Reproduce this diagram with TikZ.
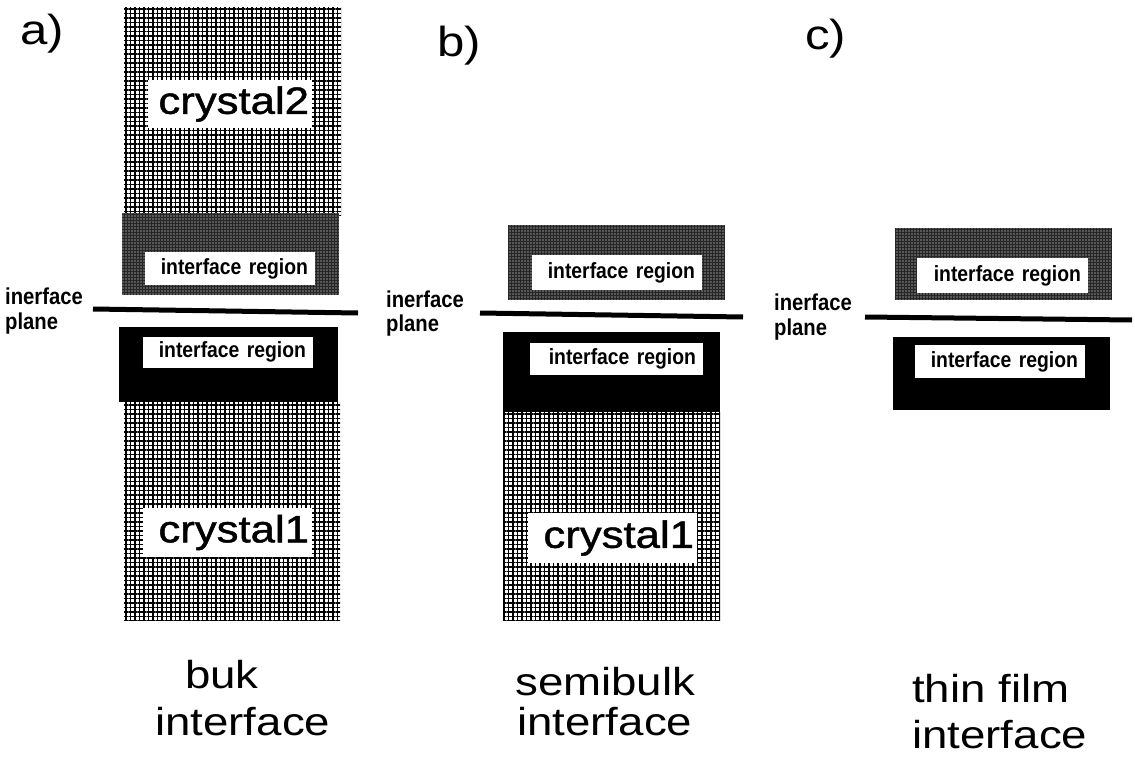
\documentclass[tikz,border=0pt]{standalone}
\usepackage{fontspec}
\setmainfont{Liberation Sans}
\newfontfamily\widefont[FakeStretch=1.17]{Liberation Sans}
\newfontfamily\cryfont[FakeStretch=1.15,FakeBold=1.2]{Liberation Sans}
\newfontfamily\narrowfont[FakeStretch=0.88]{Liberation Sans}
\usetikzlibrary{patterns.meta}
\begin{document}
\begin{tikzpicture}[x=1pt,y=-1pt,
  crystal/.style={pattern={Hatch[angle=0,distance=4.5pt,line width=1.8pt]},pattern color=black},
  upreg/.style={fill=black!85,postaction={pattern={Dots[distance=3pt,radius=0.55pt]},pattern color=white}},
  lowreg/.style={fill=black},
  plane/.style={line width=5pt,line cap=butt},
  regbox/.style={fill=white,inner xsep=7pt,inner ysep=0pt,align=right,
    font=\narrowfont\bfseries\fontsize{22}{22}\selectfont},
  crybox/.style={fill=white,inner xsep=3pt,inner ysep=0pt,align=right,
    font=\cryfont\fontsize{38}{38}\selectfont},
  small/.style={anchor=base west,inner sep=0pt,font=\narrowfont\bfseries\fontsize{23}{23}\selectfont},
  big/.style={anchor=base west,inner sep=0pt,font=\widefont\fontsize{39}{39}\selectfont},
  tag/.style={anchor=base west,inner sep=0pt,font=\widefont\fontsize{42}{42}\selectfont}]
\useasboundingbox (0,0) rectangle (1135,765);
\fill[white] (0,0) rectangle (1135,765);

% panel a
\fill[crystal] (124,7) rectangle (341,215);
\fill[upreg] (122,213) rectangle (339,295);
\fill[lowreg] (119,327) rectangle (338,402);
\fill[crystal] (124,402) rectangle (340,620);
\draw[plane] (93,309) -- (358,313);
\node[crybox,text width=158pt,minimum height=48pt] (c2a) at (230,104) {crystal2};
\node[regbox,text width=156pt,minimum height=33pt] (rua) at (230,268.5) {interface region};
\node[regbox,text width=156pt,minimum height=31pt] (rla) at (228,352) {interface region};
\node[crybox,text width=163pt,minimum height=49pt] (c1a) at (227.5,532.5) {crystal1};
\node[small] (ia) at (5,304) {inerface};
\node[small] (pa) at (5,329) {plane};
\node[tag] (ta) at (20,45) {a)};
\node[big] (ba1) at (185,688) {buk};
\node[big] (ba2) at (155,735) {interface};

% panel b
\fill[upreg] (508,225) rectangle (725,300);
\fill[lowreg] (503,332) rectangle (720,412);
\fill[crystal] (503,412) rectangle (720,620);
\draw[plane] (480,313) -- (743,317);
\node[regbox,text width=156pt,minimum height=35pt] (rub) at (617,272.5) {interface region};
\node[regbox,text width=159pt,minimum height=32pt] (rlb) at (616.5,359) {interface region};
\node[crybox,text width=163pt,minimum height=50pt] (c1b) at (612.5,538) {crystal1};
\node[small] (ib) at (386,307) {inerface};
\node[small] (pb) at (386,331) {plane};
\node[tag] (tb) at (437,57) {b)};
\node[big] (bb1) at (515,695) {semibulk};
\node[big] (bb2) at (517,735) {interface};

% panel c
\fill[upreg] (895,228) rectangle (1112,300);
\fill[lowreg] (893,337) rectangle (1110,410);
\draw[plane] (865,317) -- (1132,320);
\node[regbox,text width=157pt,minimum height=35pt] (ruc) at (1002.5,275.5) {interface region};
\node[regbox,text width=156pt,minimum height=33pt] (rlc) at (1000,361.5) {interface region};
\node[small] (ic) at (774,310) {inerface};
\node[small] (pc) at (774,335) {plane};
\node[tag] (tc) at (805,50) {c)};
\node[big] (bc1) at (912,702) {thin film};
\node[big] (bc2) at (912,748) {interface};
\end{tikzpicture}
\end{document}
